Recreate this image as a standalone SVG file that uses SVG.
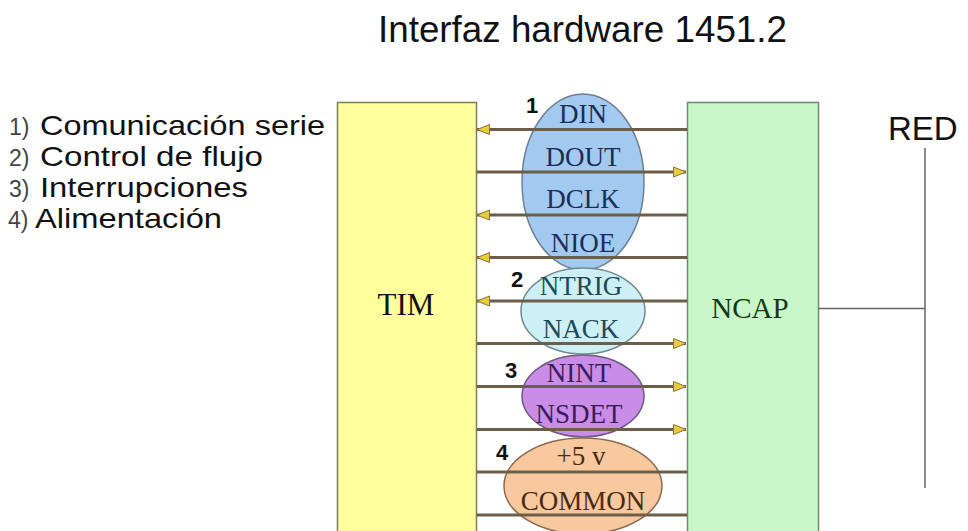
<svg xmlns="http://www.w3.org/2000/svg" width="968" height="531" viewBox="0 0 968 531">
<defs>
<marker id="ah" markerUnits="userSpaceOnUse" markerWidth="14" markerHeight="12" refX="13" refY="6" orient="auto">
<path d="M0.5,1 L13,6 L0.5,11 z" fill="#e8cc3a" stroke="#8a7040" stroke-width="1"/>
</marker>
<style>
.sans{font-family:"Liberation Sans",Arial,sans-serif;fill:#111}
.idx{font-family:"Liberation Sans",Arial,sans-serif;font-size:23px;fill:#444}
.item{font-family:"Liberation Sans",Arial,sans-serif;font-size:28px;fill:#111}
.serif{font-family:"Liberation Serif","Times New Roman",serif;text-anchor:middle}
.num{font-family:"Liberation Sans",Arial,sans-serif;font-weight:bold;font-size:22px;fill:#111}
.sig{stroke:#6c5e48;stroke-width:3;fill:none}
.arr{marker-end:url(#ah)}
.lbl{font-size:27px}
</style>
</defs>
<rect width="968" height="531" fill="#ffffff"/>
<text class="sans" x="378" y="42" font-size="36" textLength="409" lengthAdjust="spacingAndGlyphs">Interfaz hardware 1451.2</text>
<g id="legend">
<text class="idx" x="9" y="135">1)</text>
<text class="item" x="40" y="135" textLength="285" lengthAdjust="spacingAndGlyphs">Comunicación serie</text>
<text class="idx" x="9" y="166">2)</text>
<text class="item" x="40" y="166" textLength="223" lengthAdjust="spacingAndGlyphs">Control de flujo</text>
<text class="idx" x="9" y="197">3)</text>
<text class="item" x="40" y="197" textLength="208" lengthAdjust="spacingAndGlyphs">Interrupciones</text>
<text class="idx" x="8" y="228">4)</text>
<text class="item" x="35" y="228" textLength="187" lengthAdjust="spacingAndGlyphs">Alimentación</text>
</g>
<g id="tim">
<rect x="337.5" y="102.5" width="139" height="440" fill="#fefe9c" stroke="#7d7d5a" stroke-width="1.5"/>
<text class="serif" x="406" y="315" font-size="31" fill="#111">TIM</text>
</g>
<g id="ncap">
<rect x="687.5" y="102.5" width="131" height="440" fill="#c9f7c9" stroke="#6f8a6f" stroke-width="1.5"/>
<text class="serif" x="750" y="318" font-size="29" fill="#143a14">NCAP</text>
</g>
<g id="red">
<text class="sans" x="888" y="140" font-size="33">RED</text>
</g>
<g id="grp1">
<ellipse cx="583" cy="182" rx="61" ry="88" fill="#a2caf0" stroke="#6e7f95" stroke-width="1.5"/>
<text class="num" x="526" y="113">1</text>
<g class="serif lbl" fill="#1c2d5a">
<text x="583" y="123">DIN</text>
<text x="583" y="166">DOUT</text>
<text x="583" y="208">DCLK</text>
<text x="583" y="252">NIOE</text>
</g>
</g>
<g id="grp2">
<ellipse cx="583" cy="311" rx="62" ry="43" fill="#cdf0f6" stroke="#6e8a90" stroke-width="1.5"/>
<text class="num" x="511" y="287">2</text>
<g class="serif lbl" fill="#1e4b55">
<text x="581" y="295">NTRIG</text>
<text x="581" y="338">NACK</text>
</g>
</g>
<g id="grp3">
<ellipse cx="583" cy="396" rx="61" ry="41" fill="#c98de8" stroke="#6f5a80" stroke-width="1.5"/>
<text class="num" x="505" y="378">3</text>
<g class="serif lbl" fill="#3a1c5a">
<text x="579" y="382">NINT</text>
<text x="579" y="423">NSDET</text>
</g>
</g>
<g id="grp4">
<ellipse cx="583" cy="486" rx="79" ry="48" fill="#f8c89e" stroke="#8a6a50" stroke-width="1.5"/>
<text class="num" x="496" y="460">4</text>
<g class="serif lbl" fill="#4a2a12">
<text x="581" y="465">+5 v</text>
<text x="583" y="510">COMMON</text>
</g>
</g>
<g id="connectors">
<line class="sig arr" x1="687" y1="129.5" x2="477" y2="129.5"/>
<line class="sig arr" x1="477" y1="172" x2="686" y2="172"/>
<line class="sig arr" x1="687" y1="215" x2="477" y2="215"/>
<line class="sig arr" x1="687" y1="257.5" x2="477" y2="257.5"/>
<line class="sig arr" x1="687" y1="301" x2="477" y2="301"/>
<line class="sig arr" x1="477" y1="343.5" x2="686" y2="343.5"/>
<line class="sig arr" x1="477" y1="386.5" x2="686" y2="386.5"/>
<line class="sig arr" x1="477" y1="429.5" x2="686" y2="429.5"/>
<line class="sig" x1="477" y1="472" x2="687" y2="472"/>
<line class="sig" x1="477" y1="515" x2="687" y2="515"/>
<line x1="818" y1="308.5" x2="925" y2="308.5" stroke="#666" stroke-width="1.5"/>
<line x1="925" y1="148" x2="925" y2="488" stroke="#666" stroke-width="1.5"/>
</g>
</svg>
